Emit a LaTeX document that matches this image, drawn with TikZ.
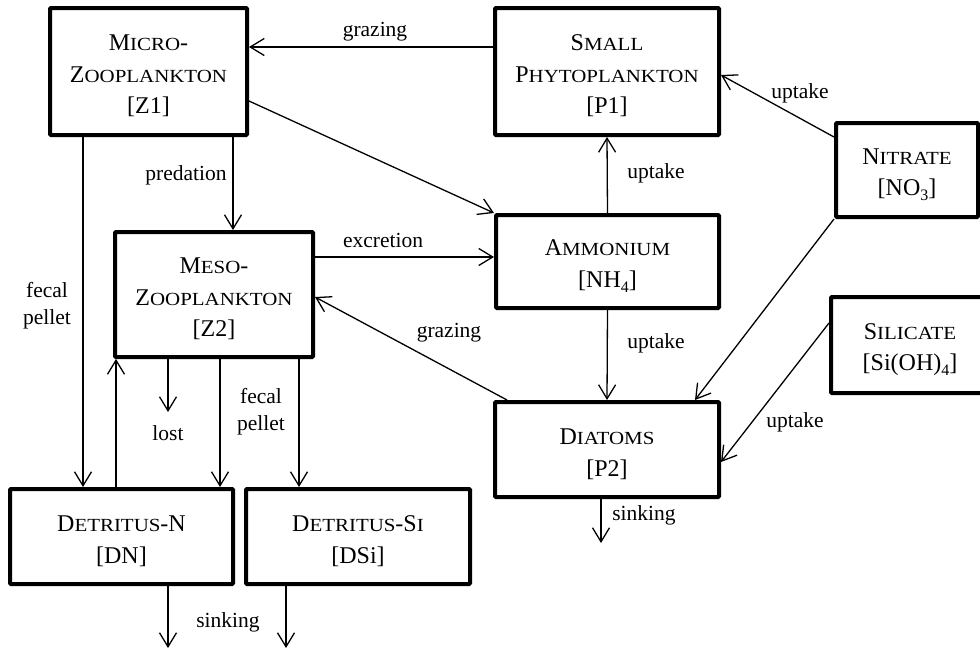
\documentclass[tikz,border=0pt]{standalone}
\usepackage{fontspec}
\usepackage{graphicx}
\setmainfont{Liberation Serif}
\usetikzlibrary{arrows.meta}
\newcommand\SCx[2]{#1\scalebox{1.13}[1]{\fontsize{18.5}{18.5}\selectfont #2}}
\newcommand\subx[1]{\raisebox{-5pt}{\fontsize{16}{16}\selectfont #1}}
\newcommand\tpx{\rule{0pt}{25pt}}
\begin{document}
\begin{tikzpicture}[x=1pt,y=-1pt,
  box/.style={draw, line width=4pt, rounded corners=1pt, inner sep=0pt, align=center,
    font=\fontsize{24}{31.5}\selectfont},
  arr/.style={line width=1.3pt, -{Straight Barb[length=14pt,width=17pt]}},
  lbl/.style={inner sep=0pt, align=center, font=\fontsize{21.5}{27}\selectfont}]
\useasboundingbox (0,0) rectangle (980,651);
\begin{scope}
\clip (0,0) rectangle (980,651);
% boxes
\node[box, minimum width=197pt, minimum height=127pt] (Z1) at (148.5,71.5)
  {\tpx\SCx{M}{ICRO}-\\\SCx{Z}{OOPLANKTON}\\{[Z1]}};
\node[box, minimum width=224pt, minimum height=127pt] (P1) at (607,71.5)
  {\tpx\SCx{S}{MALL}\\\SCx{P}{HYTOPLANKTON}\\{[P1]}};
\node[box, minimum width=142pt, minimum height=94pt] (NO3) at (907,170)
  {\tpx\SCx{N}{ITRATE}\\{[NO\subx{3}]}};
\node[box, minimum width=223pt, minimum height=93pt] (NH4) at (607.5,261.5)
  {\tpx\SCx{A}{MMONIUM}\\{[NH\subx{4}]}};
\node[box, minimum width=198pt, minimum height=125pt] (Z2) at (214,294.5)
  {\tpx\SCx{M}{ESO}-\\\SCx{Z}{OOPLANKTON}\\{[Z2]}};
\node[box, minimum width=158pt, minimum height=96pt] (SI) at (910,345)
  {\tpx\SCx{S}{ILICATE}\\{[Si(OH)\subx{4}]}};
\node[box, minimum width=224pt, minimum height=95pt] (P2) at (607,449.5)
  {\tpx\SCx{D}{IATOMS}\\{[P2]}};
\node[box, minimum width=223pt, minimum height=95pt] (DN) at (121.5,536.5)
  {\tpx\SCx{D}{ETRITUS}-N\\{[DN]}};
\node[box, minimum width=224pt, minimum height=95pt] (DSi) at (358,536.5)
  {\tpx\SCx{D}{ETRITUS}-S\scalebox{1.13}[1]{\fontsize{18.5}{18.5}\selectfont I}\\{[DSi]}};
\end{scope}
% free ends
\coordinate (P2sink) at (601,543);
\coordinate (lostend) at (168,412);
\coordinate (DNsink) at (168,648);
\coordinate (DSisink) at (286,648);
% connectors
\draw[arr] (P1.west |- 0,47) -- (Z1.east |- 0,47);
\draw[arr] (NO3.west |- 0,137) -- (P1.east |- 0,75);
\draw[arr] (Z1.east |- 0,101) -- (NH4.north west);
\draw[arr] (NH4.north) -- (P1.south);
\draw[arr] (233,0 |- Z1.south) -- (233,0 |- Z2.north);
\draw[arr] (83,0 |- Z1.south) -- (83,0 |- DN.north);
\draw[arr] (Z2.east |- 0,257) -- (NH4.west |- 0,257);
\draw[arr] (507,0 |- P2.north) -- (Z2.east |- 0,297);
\draw[arr] (NH4.south) -- (P2.north);
\draw[arr] (NO3.south west) -- (695,0 |- P2.north);
\draw[arr] (SI.west |- 0,323) -- (P2.east |- 0,462);
\draw[arr] (601,0 |- P2.south) -- (P2sink);
\draw[arr] (116,0 |- DN.north) -- (116,0 |- Z2.south);
\draw[arr] (168,0 |- Z2.south) -- (lostend);
\draw[arr] (220,0 |- Z2.south) -- (220,0 |- DN.north);
\draw[arr] (299,0 |- Z2.south) -- (299,0 |- DSi.north);
\draw[arr] (168,0 |- DN.south) -- (DNsink);
\draw[arr] (286,0 |- DSi.south) -- (DSisink);
% labels
\node[lbl] (l1) at (375,32) {grazing};
\node[lbl] (l2) at (800,93) {uptake};
\node[lbl] (l3) at (656,173) {uptake};
\node[lbl] (l4) at (186,175) {predation};
\node[lbl] (l5) at (383,240) {excretion};
\node[lbl] (l6) at (47,306) {fecal\\pellet};
\node[lbl] (l7) at (449,333) {grazing};
\node[lbl] (l8) at (656,343) {uptake};
\node[lbl] (l9) at (795,422) {uptake};
\node[lbl] (l10) at (168,433) {lost};
\node[lbl] (l11) at (261,412) {fecal\\pellet};
\node[lbl] (l12) at (644,515) {sinking};
\node[lbl] (l13) at (228,622) {sinking};
\end{tikzpicture}
\end{document}
